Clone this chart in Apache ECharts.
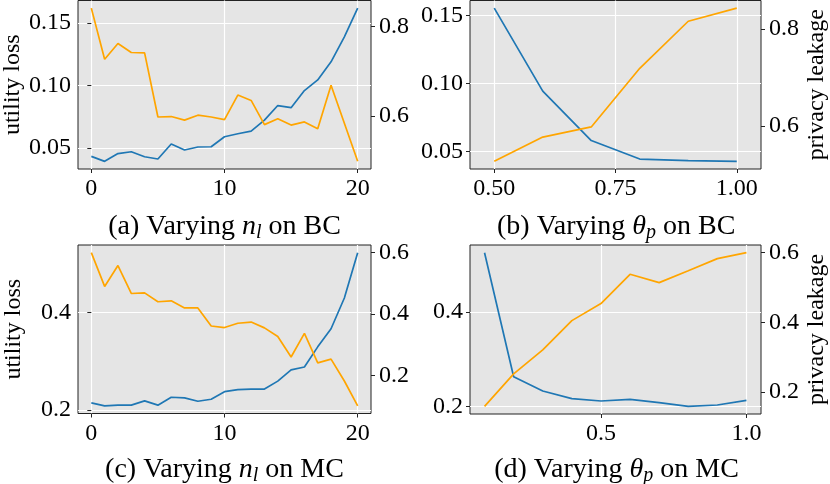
<!DOCTYPE html>
<html>
<head>
<meta charset="utf-8">
<script src="https://cdn.jsdelivr.net/npm/echarts@6/dist/echarts.min.js"></script>
<style>html,body{margin:0;padding:0;background:#fff}#c{width:830px;height:484px}</style>
</head>
<body>
<div id="c"></div>
<script>
// ---- data ----
var nlValues = [0,1,2,3,4,5,6,7,8,9,10,11,12,13,14,15,16,17,18,19,20];
var thetaBC = [0.5,0.6,0.7,0.8,0.9,1.0];
var thetaMC = [0.1,0.2,0.3,0.4,0.5,0.6,0.7,0.8,0.9,1.0];

var utilA = [0.0433,0.0393,0.0455,0.047,0.043,0.0412,0.0532,0.0484,0.0508,0.051,0.059,0.0614,0.0635,0.0723,0.084,0.0823,0.096,0.1045,0.119,0.139,0.162];
var privA = [0.841,0.727,0.762,0.742,0.741,0.598,0.599,0.591,0.602,0.598,0.592,0.647,0.635,0.581,0.594,0.580,0.587,0.572,0.669,0.584,0.499];
var utilB = [0.1554,0.0944,0.058,0.0444,0.0432,0.0427];
var privB = [0.527,0.577,0.598,0.719,0.816,0.843];
var utilC = [0.2142,0.2081,0.2095,0.2095,0.2183,0.2095,0.2258,0.2244,0.2176,0.2217,0.2373,0.2414,0.2427,0.2427,0.259,0.282,0.288,0.3295,0.3668,0.43,0.5234];
var privC = [0.600,0.490,0.558,0.467,0.469,0.440,0.443,0.420,0.420,0.361,0.356,0.370,0.374,0.355,0.327,0.260,0.337,0.241,0.253,0.182,0.101];
var utilD = [0.5245,0.263,0.2329,0.2168,0.2119,0.2154,0.2084,0.2007,0.2035,0.2133];
var privD = [0.159,0.252,0.321,0.405,0.454,0.538,0.514,0.548,0.583,0.600];

// tick labels
var xTicksA = [0,10,20], xTicksB = [0.5,0.75,1.0], xTicksC = [0,10,20], xTicksD = [0.5,1.0];
var yLeftTicksA = [0.05,0.10,0.15], yLeftTicksB = [0.05,0.10,0.15], yLeftTicksC = [0.2,0.4], yLeftTicksD = [0.2,0.4];
var yRightTicksA = [0.6,0.8], yRightTicksB = [0.6,0.8], yRightTicksC = [0.2,0.4,0.6], yRightTicksD = [0.2,0.4,0.6];

var captions = [
  ['(a) Varying ', 'n', 'l', ' on BC'],
  ['(b) Varying ', 'θ', 'p', ' on BC'],
  ['(c) Varying ', 'n', 'l', ' on MC'],
  ['(d) Varying ', 'θ', 'p', ' on MC']
];
var leftName = 'utility loss', rightName = 'privacy leakage';

// ---- layout ----
var FONT = 'Liberation Serif';
var BLUE = '#1f77b4', ORANGE = '#ffa500';
var grids = [
  {left:78, top:0.5, width:293, height:168.5},
  {left:470, top:0.5, width:292.5, height:168.5},
  {left:78, top:245, width:293, height:168.5},
  {left:470, top:245, width:293, height:169}
];
function pad(arr, frac){ var mn=Math.min.apply(null,arr), mx=Math.max.apply(null,arr), d=(mx-mn)*frac; return [mn-d, mx+d]; }
var xRanges = [[-1,21],[0.45,1.05],[-1,21],[0.05,1.05]];
var lRanges = [pad(utilA,0.05),pad(utilB,0.05),pad(utilC,0.05),pad(utilD,0.05)];
var rRanges = [pad(privA,0.05),pad(privB,0.05),pad(privC,0.05),pad(privD,0.05)];
var xTicks = [xTicksA,xTicksB,xTicksC,xTicksD];
var xDec = [0,2,0,1];
var lTicks = [yLeftTicksA,yLeftTicksB,yLeftTicksC,yLeftTicksD];
var lDec = [2,2,1,1];
var rTicks = [yRightTicksA,yRightTicksB,yRightTicksC,yRightTicksD];
var xs = [nlValues, thetaBC, nlValues, thetaMC];
var utils = [utilA,utilB,utilC,utilD];
var privs = [privA,privB,privC,privD];

var lbl = {fontFamily:FONT, fontSize:24, color:'#000'};
var tickStyle = {show:true, inside:false, length:4, lineStyle:{color:'#222', width:1}};

var option = {animation:false, grid:[], xAxis:[], yAxis:[], series:[], title:[]};
for (var k=0;k<4;k++){
  var g = grids[k];
  option.grid.push({left:g.left, top:g.top, width:g.width, height:g.height, show:true,
    backgroundColor:'#e5e5e5', borderColor:'#222', borderWidth:1, containLabel:false});
  (function(k){
  option.xAxis.push({type:'value', gridIndex:k, min:xRanges[k][0], max:xRanges[k][1],
    axisLine:{show:false}, axisTick:Object.assign({customValues:xTicks[k]}, tickStyle),
    axisLabel:Object.assign({customValues:xTicks[k], margin:8, formatter:function(v){return v.toFixed(xDec[k]);}}, lbl),
    splitLine:{show:true, lineStyle:{color:'#fff', width:1.2}}});
  option.yAxis.push({type:'value', gridIndex:k, position:'left', min:lRanges[k][0], max:lRanges[k][1],
    axisLine:{show:false}, axisTick:Object.assign({customValues:lTicks[k]}, tickStyle),
    axisLabel:Object.assign({customValues:lTicks[k], margin:7, formatter:function(v){return v.toFixed(lDec[k]);}}, lbl),
    splitLine:{show:true, lineStyle:{color:'#fff', width:1.2}},
    name:(k%2===0)?leftName:'', nameLocation:'middle', nameRotate:90, nameGap:52,
    nameTextStyle:{fontFamily:FONT, fontSize:24, color:'#000'}});
  option.yAxis.push({type:'value', gridIndex:k, position:'right', min:rRanges[k][0], max:rRanges[k][1],
    axisLine:{show:false}, axisTick:Object.assign({customValues:rTicks[k]}, tickStyle),
    axisLabel:Object.assign({customValues:rTicks[k], margin:8, formatter:function(v){return v.toFixed(1);}}, lbl),
    splitLine:{show:false},
    name:(k%2===1)?rightName:'', nameLocation:'middle', nameRotate:90, nameGap:44,
    nameTextStyle:{fontFamily:FONT, fontSize:24, color:'#000'}});
  })(k);
  var d1=[], d2=[];
  for (var i=0;i<xs[k].length;i++){ d1.push([xs[k][i], utils[k][i]]); d2.push([xs[k][i], privs[k][i]]); }
  option.series.push({type:'line', xAxisIndex:k, yAxisIndex:2*k, data:d1, showSymbol:false,
    lineStyle:{color:BLUE, width:1.7}, z:3});
  option.series.push({type:'line', xAxisIndex:k, yAxisIndex:2*k+1, data:d2, showSymbol:false,
    lineStyle:{color:ORANGE, width:1.7}, z:4});
  var c = captions[k];
  option.title.push({
    text:'{r|'+c[0]+'}{i|'+c[1]+'}{s|'+c[2]+'}{r|'+c[3]+'}',
    left:g.left+g.width/2, textAlign:'center', top:(k<2?211:454), padding:0,
    textStyle:{fontWeight:'normal', rich:{
      r:{fontFamily:FONT, fontSize:28, fontWeight:'normal', color:'#000', lineHeight:32},
      i:{fontFamily:FONT, fontSize:28, fontWeight:'normal', fontStyle:'italic', color:'#000', lineHeight:32},
      s:{fontFamily:FONT, fontSize:20, fontWeight:'normal', fontStyle:'italic', color:'#000', lineHeight:19, verticalAlign:'bottom'}
    }}
  });
}
var chart = echarts.init(document.getElementById('c'), null, {renderer:'canvas'});
chart.setOption(option);
</script>
</body>
</html>
